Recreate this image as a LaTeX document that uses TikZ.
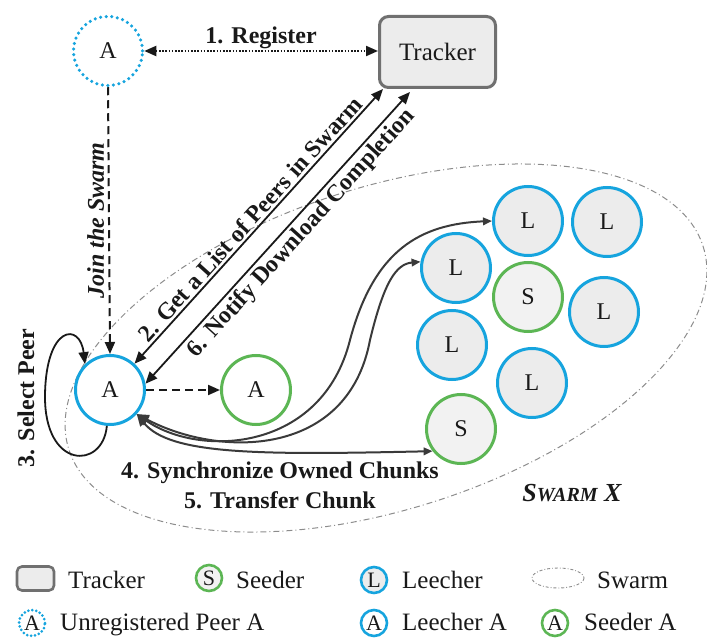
\documentclass[tikz,border=0pt]{standalone}
\usepackage{fontspec}
\setmainfont{Liberation Serif}
\usetikzlibrary{arrows.meta,calc}

\definecolor{peerblue}{RGB}{22,164,222}
\definecolor{seedgreen}{RGB}{92,182,84}
\definecolor{nodefill}{RGB}{236,236,236}
\definecolor{seedfill}{RGB}{242,242,242}
\definecolor{trackerline}{RGB}{112,112,112}
\definecolor{swarmline}{RGB}{140,140,140}
\definecolor{flowline}{RGB}{58,58,58}
\definecolor{inkcolor}{RGB}{25,25,25}

\tikzset{
  bigtip/.tip={Triangle[length=12pt,width=10pt]},
  smalltip/.tip={Triangle[length=9pt,width=7.5pt]},
}

\begin{document}
\begin{tikzpicture}[x=1pt,y=-1pt,
  every node/.style={text=inkcolor},
  font=\fontsize{24}{28}\selectfont,
  peer/.style={circle,minimum size=69pt,inner sep=0pt,line width=3pt},
  leecher/.style={peer,draw=peerblue,fill=nodefill},
  seeder/.style={peer,draw=seedgreen,fill=seedfill},
  leechA/.style={peer,draw=peerblue,fill=white},
  seedA/.style={peer,draw=seedgreen,fill=white},
  unregA/.style={peer,draw=peerblue,line width=3.5pt,dash pattern=on 0pt off 5.6pt,line cap=round},
  trackerbox/.style={draw=trackerline,fill=nodefill,line width=3pt,rounded corners=9pt,
    minimum width=116pt,minimum height=71pt,inner sep=0pt},
  mini/.style={circle,minimum size=26pt,inner sep=0pt,line width=2.6pt,font=\fontsize{22}{24}\selectfont},
  steplabel/.style={font=\fontsize{24}{28}\selectfont\bfseries},
  legendtext/.style={anchor=base west,inner sep=0pt,font=\fontsize{25}{28}\selectfont},
  dotline/.style={inkcolor,line width=2pt,dash pattern=on 1.6pt off 1.6pt},
  dashline/.style={inkcolor,line width=2pt,dash pattern=on 8pt off 5pt},
  solidline/.style={inkcolor,line width=1.8pt},
  flow/.style={flowline,line width=2pt},
  swarm/.style={swarmline,line width=1pt,dash pattern=on 6pt off 3pt on 1pt off 3pt},
]
\useasboundingbox (0,0) rectangle (707,639);

% swarm region
\draw[swarm,rotate around={17.8:(386,348)}] (386,348) ellipse (333 and 161);
\node[font=\fontsize{26}{30}\selectfont\bfseries\itshape] (swarmx) at (572,493)
  {S{\fontsize{20}{22}\selectfont WARM} X};

% tracker and peer A
\node[unregA] (uA) at (108,51) {A};
\node[trackerbox] (tracker) at (437.5,52) {\fontsize{25}{30}\selectfont Tracker};
\node[leechA] (mA) at (110,390) {A};
\node[seedA] (gA) at (256,390) {A};

% peers in the swarm
\node[leecher] (l1) at (528,221) {L};
\node[leecher] (l2) at (607,222) {L};
\node[leecher] (l3) at (456,268) {L};
\node[seeder]  (s1) at (528,297) {S};
\node[leecher] (l4) at (604,312) {L};
\node[leecher] (l5) at (452,345) {L};
\node[leecher] (l6) at (532,383) {L};
\node[seeder]  (s2) at (461,429) {S};

% 1. register
\draw[dotline,bigtip-bigtip] (uA.east) -- (uA.east -| tracker.west)
  node[midway,above,steplabel,inner sep=1pt] {1. Register};

% join the swarm
\draw[dashline,-bigtip] (uA.south) -- (mA.north)
  node[pos=0.5,rotate=90,anchor=south,inner sep=4pt,
       font=\fontsize{24}{28}\selectfont\bfseries\itshape] {Join the Swarm};

% 2. and 6. with the tracker
\draw[solidline,bigtip-bigtip] (mA.47) -- ($(tracker.south west)+(5,0)$)
  node[midway,sloped,above,steplabel,inner sep=2pt] {2. Get a List of Peers in Swarm};
\draw[solidline,bigtip-bigtip] (mA.10) -- ($(tracker.south west)+(32,3)$)
  node[pos=0.55,sloped,below,steplabel,inner sep=3pt] {6. Notify Download Completion};

% becoming a seeder
\draw[dashline,-bigtip] (mA.east) -- (gA.west);

% 3. select peer
\draw[solidline,-bigtip] (mA.265) .. controls (103,470) and (44,470) .. (45,395)
  .. controls (46,325) and (80,322) .. (mA.134);
\node[steplabel,rotate=90] (sel) at (26,398) {3. Select Peer};

% 4./5. chunk exchange
\draw[flow,bigtip-smalltip] (mA.-42) .. controls (200,458) and (322,452) .. (350,340)
  .. controls (374,250) and (420,224) .. (l1.west);
\draw[flow,bigtip-smalltip] (mA.-42) .. controls (220,458) and (348,458) .. (370,340)
  .. controls (384,282) and (396,264) .. (l3.170);
\draw[flow,bigtip-smalltip] (mA.-42) .. controls (170,455) and (260,455) .. (s2.218);
\node[steplabel] (sync) at (280,473) {4. Synchronize Owned Chunks};
\node[steplabel] (xfer) at (280,500) {5. Transfer Chunk};

% legend
\node[trackerbox,minimum width=37pt,minimum height=24pt,rounded corners=5pt,line width=2.6pt] (lgT) at (35.5,578.5) {};
\node[legendtext] (lgTt) at (68,588) {Tracker};
\node[mini,draw=seedgreen,fill=seedfill] (lgS) at (209,578) {S};
\node[legendtext] (lgSt) at (236,588) {Seeder};
\node[mini,draw=peerblue,fill=nodefill] (lgL) at (374,580) {L};
\node[legendtext] (lgLt) at (402,588) {Leecher};
\draw[swarmline,line width=0.9pt,dash pattern=on 3pt off 2pt on 0.8pt off 2pt] (558,578) ellipse (26 and 10);
\node[legendtext] (lgWt) at (597,588) {Swarm};

\node[mini,draw=peerblue,line width=3pt,dash pattern=on 0pt off 4pt,line cap=round] (lgU) at (32,623) {A};
\node[legendtext] (lgUt) at (60,630) {Unregistered Peer A};
\node[mini,draw=peerblue,fill=white] (lgLA) at (374,623) {A};
\node[legendtext] (lgLAt) at (402,630) {Leecher A};
\node[mini,draw=seedgreen,fill=white] (lgSA) at (555,623) {A};
\node[legendtext] (lgSAt) at (584,630) {Seeder A};
\end{tikzpicture}
\end{document}
